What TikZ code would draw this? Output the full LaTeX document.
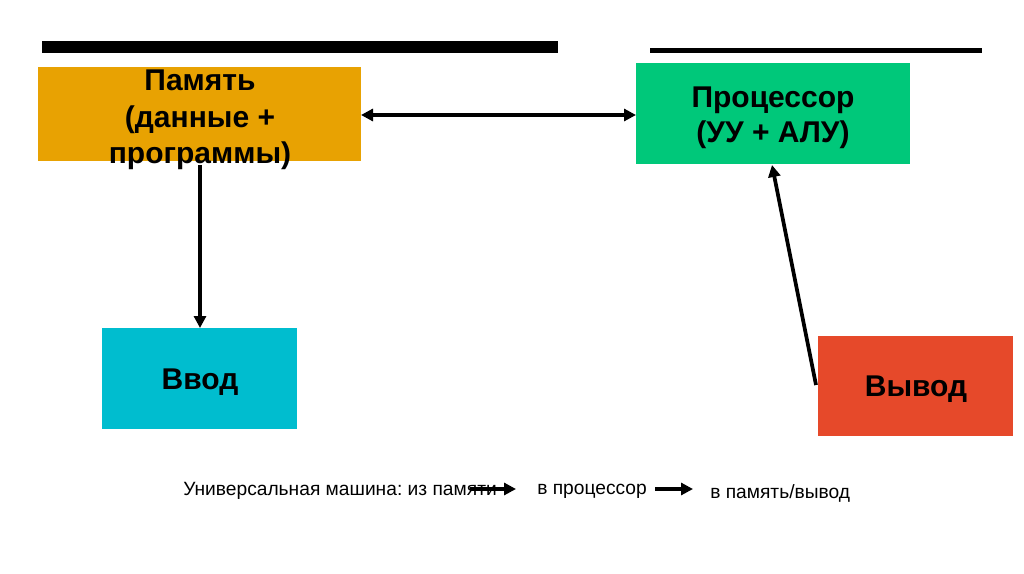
\documentclass[tikz,border=0pt]{standalone}
\usepackage{fontspec}
\setmainfont{Liberation Sans}
\frenchspacing
\usetikzlibrary{arrows.meta}
\definecolor{memc}{HTML}{E8A202}
\definecolor{cpuc}{HTML}{00C87A}
\definecolor{inc}{HTML}{00BDCF}
\definecolor{outc}{HTML}{E6492A}
\tikzset{
  blk/.style={inner sep=0pt, outer sep=0pt},
  lbl/.style={inner sep=0pt, align=center, font=\fontsize{22.5}{27.5}\selectfont\bfseries},
  arr/.style={line width=2.8pt, -{Triangle[length=9pt,width=9pt]}},
  darr/.style={line width=2.8pt, {Triangle[length=9pt,width=9pt]}-{Triangle[length=9pt,width=9pt]}},
  small/.style={inner sep=0pt, font=\fontsize{14.4}{17}\selectfont, anchor=west},
}
\begin{document}
\begin{tikzpicture}[x=0.75pt,y=-0.75pt]
\useasboundingbox (0,0) rectangle (1024,574);
\fill[black] (42,41) rectangle (558,53);
\fill[black] (650,48) rectangle (982,53);
\node[blk, fill=memc, minimum width=323*0.75pt, minimum height=94*0.75pt] (mem) at (199.5,114) {};
\node[lbl] (memt) at (200,120) {Память\\(данные +\\программы)};
\node[blk, fill=cpuc, minimum width=274*0.75pt, minimum height=101*0.75pt] (cpu) at (773,113.5) {};
\node[lbl, font=\fontsize{22.5}{26.5}\selectfont\bfseries] (cput) at (773,118) {Процессор\\(УУ + АЛУ)};
\node[blk, fill=inc, minimum width=195*0.75pt, minimum height=101*0.75pt] (in) at (199.5,378.5) {};
\node[lbl] (int) at (200,382) {Ввод};
\node[blk, fill=outc, minimum width=195*0.75pt, minimum height=100*0.75pt] (out) at (915.5,386) {};
\node[lbl] (outt) at (916,389) {Вывод};
\draw[darr] (mem.east |- 0,115) -- (cpu.west |- 0,115);
\draw[arr] (200,165) -- (in.north -| 200,0);
\coordinate (o1) at (816,385);
\draw[arr] (o1) -- (772,165);
\node[small] (t1) at (183,491) {Универсальная машина: из памяти};
\node[small] (t2) at (537,491) {в процессор};
\node[small] (t3) at (710,493) {в память/вывод};
\coordinate (a1) at (470,489);
\coordinate (a2) at (516,489);
\coordinate (b1) at (655,489);
\coordinate (b2) at (693,489);
\draw[arr] (a1) -- (a2);
\draw[arr] (b1) -- (b2);
\end{tikzpicture}
\end{document}
